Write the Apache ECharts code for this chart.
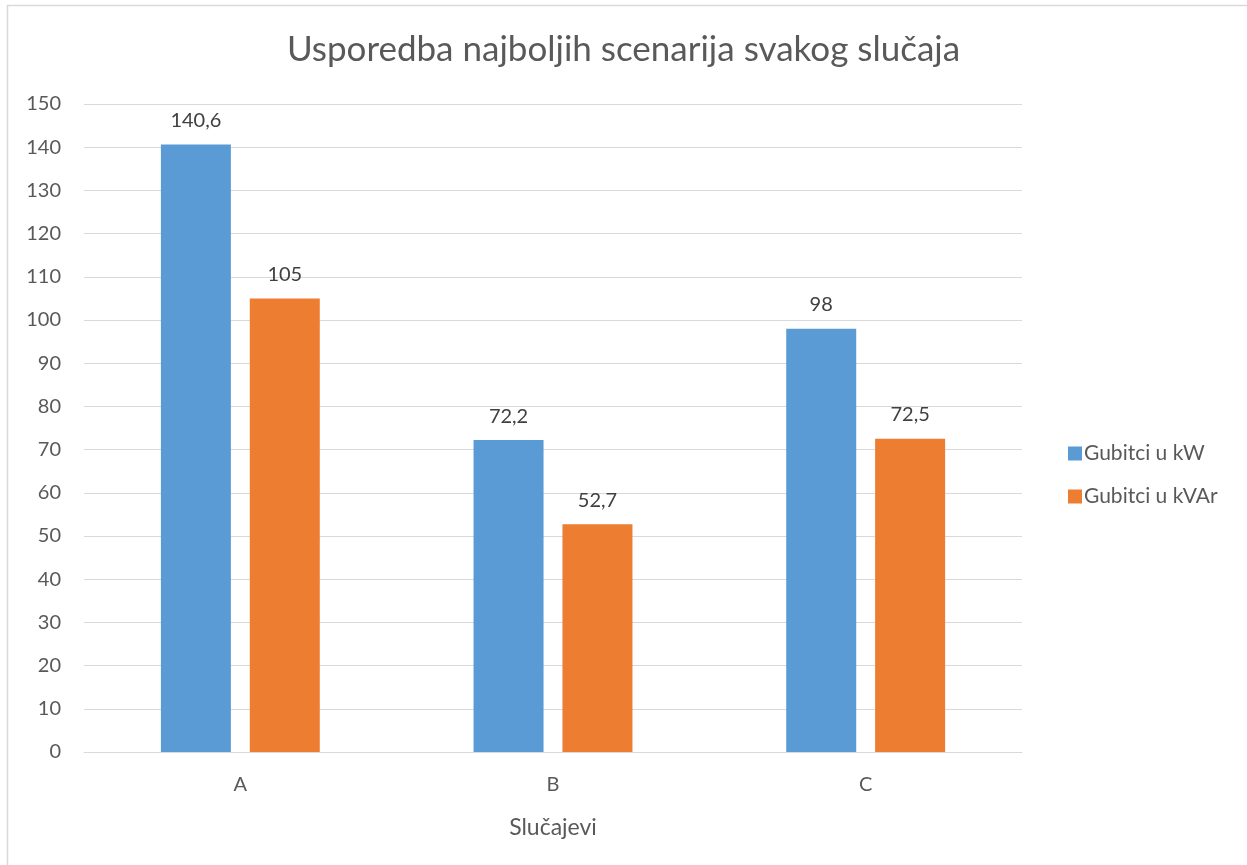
<!DOCTYPE html>
<html>
<head>
<meta charset="utf-8">
<script src="https://cdn.jsdelivr.net/npm/echarts@6/dist/echarts.min.js"></script>
<style>
  html, body { margin: 0; padding: 0; background: #fff; }
  #chart { width: 1247px; height: 865px; }
</style>
</head>
<body>
<div id="chart"></div>
<script>
// Cases and their best-scenario losses
const categories = ['A', 'B', 'C'];
const lossesKW = [140.6, 72.2, 98];
const lossesKVAr = [105, 52.7, 72.5];
const seriesNames = ['Gubitci u kW', 'Gubitci u kVAr'];

const textColor = '#595959';
const fontFamily = 'Lato, "Open Sans", "Noto Sans", sans-serif';
const commaFormat = v => String(v).replace('.', ',');

const chart = echarts.init(document.getElementById('chart'));
chart.setOption({
  animation: false,
  backgroundColor: '#fff',
  textStyle: { fontFamily: fontFamily, color: textColor },
  graphic: [{
    type: 'rect',
    shape: { x: 7.5, y: 5.5, width: 1260, height: 880 },
    style: { fill: 'none', stroke: '#d9d9d9', lineWidth: 1.5 },
    silent: true
  }],
  title: {
    text: 'Usporedba najboljih scenarija svakog slučaja',
    left: 'center',
    top: 27,
    textStyle: { fontFamily: fontFamily, fontSize: 35, fontWeight: 'normal', color: textColor }
  },
  legend: {
    orient: 'vertical',
    left: 1063,
    top: 438,
    itemWidth: 14,
    itemHeight: 14,
    itemGap: 22,
    icon: 'rect',
    textStyle: { fontFamily: fontFamily, fontSize: 21, color: textColor, padding: [0, 0, 0, -3] },
    data: seriesNames
  },
  grid: { left: 84, right: 225, top: 104, bottom: 113, containLabel: false },
  xAxis: {
    type: 'category',
    data: categories,
    name: 'Slučajevi',
    nameLocation: 'middle',
    nameGap: 64,
    nameTextStyle: { fontFamily: fontFamily, fontSize: 23, color: textColor },
    axisLine: { show: true, lineStyle: { color: '#d9d9d9', width: 1 } },
    axisTick: { show: false },
    axisLabel: { fontFamily: fontFamily, fontSize: 20, color: textColor, margin: 23 }
  },
  yAxis: {
    type: 'value',
    min: 0,
    max: 150,
    interval: 10,
    axisLine: { show: false },
    axisTick: { show: false },
    axisLabel: { fontFamily: fontFamily, fontSize: 20, color: textColor, margin: 23 },
    splitLine: { lineStyle: { color: '#d9d9d9', width: 1 } }
  },
  series: [
    {
      name: seriesNames[0],
      type: 'bar',
      data: lossesKW,
      barWidth: 70,
      barGap: '27%',
      itemStyle: { color: '#5B9BD5' },
      label: {
        show: true, position: 'top', distance: 14,
        fontFamily: fontFamily, fontSize: 20, color: '#404040',
        formatter: p => commaFormat(p.value)
      }
    },
    {
      name: seriesNames[1],
      type: 'bar',
      data: lossesKVAr,
      barWidth: 70,
      barGap: '27%',
      itemStyle: { color: '#ED7D31' },
      label: {
        show: true, position: 'top', distance: 14,
        fontFamily: fontFamily, fontSize: 20, color: '#404040',
        formatter: p => commaFormat(p.value)
      }
    }
  ]
});
</script>
</body>
</html>
